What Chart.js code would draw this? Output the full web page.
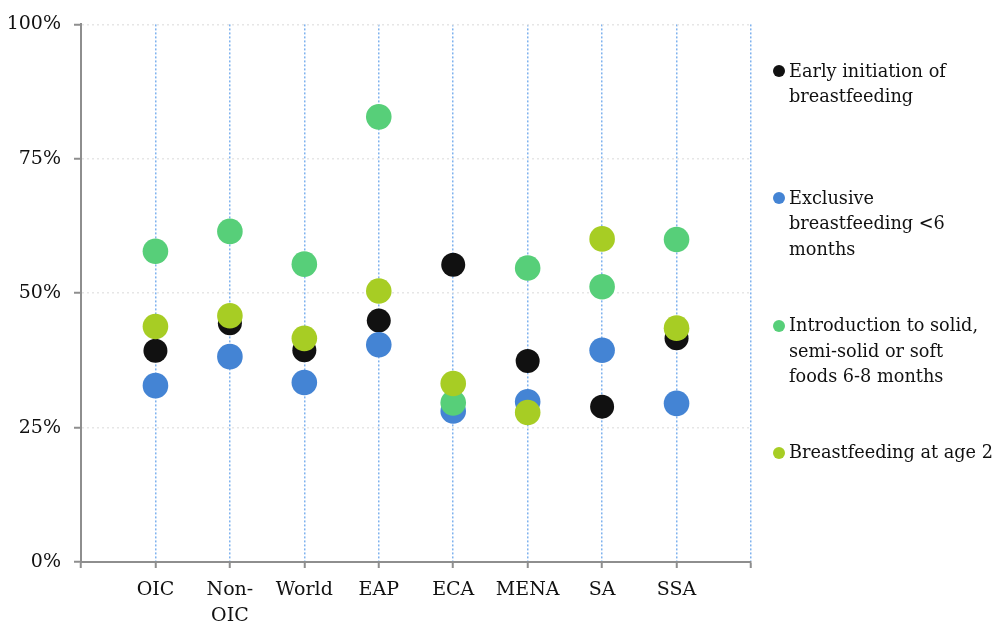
<!DOCTYPE html>
<html>
<head>
<meta charset="utf-8">
<script src="https://cdn.jsdelivr.net/npm/chart.js@4"></script>
<style>
    html, body { margin: 0; padding: 0; background: #fff; }
    #wrap { position: relative; width: 995px; height: 623px; }
    #legend { position: absolute; left: 0; top: 0; width: 995px; height: 623px; pointer-events: none; }
    .leg-item {
        position: absolute;
        left: 789px;
        font-family: 'DejaVu Serif', serif;
        font-size: 17.7px;
        line-height: 25.5px;
        color: #111;
        white-space: pre;
    }
    .leg-dot {
        position: absolute;
        left: -16px;
        top: 6.5px;
        width: 12px;
        height: 12px;
        border-radius: 50%;
    }
</style>
</head>
<body>
<div id="wrap">
    <canvas id="mainChart" width="995" height="623"></canvas>
    <div id="legend"></div>
</div>
<script>
// ========================================
// DATA
// ========================================
const categories = ['OIC', 'Non-\nOIC', 'World', 'EAP', 'ECA', 'MENA', 'SA', 'SSA'];
const yTicks = [0, 25, 50, 75, 100];

const seriesNames = [
    'Early initiation of\nbreastfeeding',
    'Exclusive\nbreastfeeding <6\nmonths',
    'Introduction to solid,\nsemi-solid or soft\nfoods 6-8 months',
    'Breastfeeding at age 2'
];
const seriesColors = ['#111111', '#4484d4', '#57cf79', '#a7cd24'];

const earlyInitiation = [39.3, 44.4, 39.4, 44.9, 55.3, 37.4, 28.9, 41.6];
const exclusiveBf = [32.8, 38.2, 33.4, 40.4, 28.1, 29.8, 39.4, 29.5];
const solidFoods = [57.8, 61.5, 55.4, 82.8, 29.6, 54.7, 51.2, 60.0];
const bfAtAge2 = [43.8, 45.8, 41.6, 50.4, 33.2, 27.8, 60.1, 43.5];

const seriesValues = [earlyInitiation, exclusiveBf, solidFoods, bfAtAge2];

// ========================================
// CHART
// ========================================
const FONT = 'DejaVu Serif';
const AXIS_GREY = '#8e8e8e';

const datasets = seriesValues.map((vals, s) => ({
    label: seriesNames[s],
    data: vals.map((v, i) => ({ x: i + 1, y: v })),
    backgroundColor: seriesColors[s],
    borderWidth: 0,
    pointRadius: s === 0 ? 12 : 12.8,
    pointHoverRadius: s === 0 ? 12 : 12.8,
    order: seriesValues.length - s   // later series drawn on top
}));

const ctx = document.getElementById('mainChart').getContext('2d');

new Chart(ctx, {
    type: 'scatter',
    data: { datasets },
    options: {
        responsive: false,
        animation: false,
        layout: { padding: { left: 0, right: 244, top: 22, bottom: 0 } },
        plugins: {
            legend: { display: false },
            tooltip: { enabled: false }
        },
        scales: {
            x: {
                type: 'linear',
                min: 0,
                max: categories.length + 1,
                afterFit: (scale) => { scale.height = 61; },
                afterBuildTicks: (scale) => {
                    scale.ticks = [];
                    for (let i = 0; i <= categories.length + 1; i++) scale.ticks.push({ value: i });
                },
                ticks: {
                    autoSkip: false,
                    maxRotation: 0,
                    padding: 10,
                    color: '#111',
                    font: { family: FONT, size: 19, lineHeight: 1.32 },
                    callback: (v) => {
                        const label = categories[v - 1];
                        return label ? label.split('\n') : '';
                    }
                },
                grid: {
                    color: (c) => (c.tick && (c.tick.value === 0) ? 'rgba(0,0,0,0)' : '#7fb2ee'),
                    lineWidth: 1.5,
                    tickColor: AXIS_GREY,
                    tickLength: 6,
                    tickWidth: 2
                },
                border: { color: AXIS_GREY, width: 2, dash: [2, 2] }
            },
            y: {
                min: 0,
                max: 100,
                afterFit: (scale) => { scale.width = 81; },
                afterBuildTicks: (scale) => {
                    scale.ticks = yTicks.map(v => ({ value: v }));
                },
                ticks: {
                    padding: 13,
                    color: '#111',
                    font: { family: FONT, size: 19 },
                    callback: (v) => v + '%'
                },
                grid: {
                    color: (c) => (c.tick && c.tick.value === 0 ? 'rgba(0,0,0,0)' : '#e6e6e6'),
                    lineWidth: 1.5,
                    tickColor: AXIS_GREY,
                    tickLength: 7,
                    tickWidth: 2
                },
                border: { color: AXIS_GREY, width: 2, dash: [2, 3] }
            }
        }
    }
});

// ========================================
// LEGEND (html, right side)
// ========================================
const legendEl = document.getElementById('legend');
seriesNames.forEach((name, s) => {
    const item = document.createElement('div');
    item.className = 'leg-item';
    item.style.top = (58.5 + s * 127.3) + 'px';
    item.textContent = name;
    const dot = document.createElement('span');
    dot.className = 'leg-dot';
    dot.style.background = seriesColors[s];
    item.appendChild(dot);
    legendEl.appendChild(item);
});
</script>
</body>
</html>
